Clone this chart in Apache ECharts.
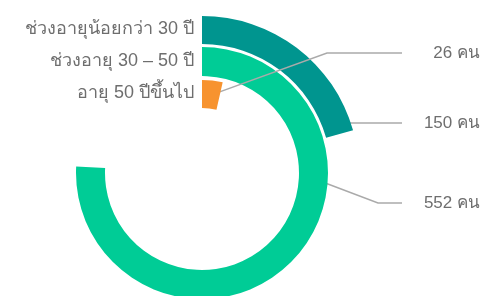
<!DOCTYPE html>
<html><head><meta charset="utf-8">
<script src="https://cdn.jsdelivr.net/npm/echarts@6/dist/echarts.min.js"></script>
<style>html,body{margin:0;padding:0;background:#fff}#c{width:490px;height:296px}</style>
</head><body><div id="c"></div>
<script>
// Data (inner ring -> outer ring)
const categories = ['อายุ 50 ปีขึ้นไป', 'ช่วงอายุ 30 – 50 ปี', 'ช่วงอายุน้อยกว่า 30 ปี'];
const values = [26, 552, 150];
const unit = 'คน';

// Styling / layout
const colors = ['#F7932F', '#00CC96', '#00958F'];
const ringRadii = [[65, 93], [97, 126], [129, 157]];
const center = [202, 173];
const guides = [
  { anchor: 0.57, y: 53, elbowX: 327 },
  { anchor: 0.34, y: 203, elbowX: 378 },
  { anchor: 0.94, y: 123, elbowX: null }
];
const textColor = '#6e6e6e';
const font = 'sans-serif';

const total = values.reduce((a, b) => a + b, 0);
const chart = echarts.init(document.getElementById('c'), null, { renderer: 'canvas' });
const W = chart.getWidth();

const series = values.map((v, i) => ({
  type: 'pie',
  z: 10 - i,
  center: center,
  radius: ringRadii[i],
  startAngle: 90,
  clockwise: true,
  silent: true,
  avoidLabelOverlap: false,
  animation: false,
  label: { show: true, position: 'outside', formatter: '{c} ' + unit, color: textColor, fontSize: 17, fontFamily: font },
  labelLine: { show: true, lineStyle: { color: '#aaaaaa', width: 1.5 } },
  labelLayout: function (p) {
    const g = guides[i];
    const theta = g.anchor * (v / total) * Math.PI * 2;
    const r = (ringRadii[i][0] + ringRadii[i][1]) / 2;
    const sx = center[0] + r * Math.sin(theta);
    const sy = center[1] - r * Math.cos(theta);
    const endX = W - 88;
    const pts = g.elbowX == null
      ? [[sx, g.y], [(sx + endX) / 2, g.y], [endX, g.y]]
      : [[sx, sy], [g.elbowX, g.y], [endX, g.y]];
    return { x: W - 10, y: g.y, align: 'right', verticalAlign: 'middle', labelLinePoints: pts };
  },
  data: [
    { value: v, name: categories[i], itemStyle: { color: colors[i] } },
    { value: total - v, name: 'rest', itemStyle: { color: 'rgba(0,0,0,0)' }, label: { show: false }, labelLine: { show: false } }
  ]
}));

chart.setOption({
  animation: false,
  polar: { center: center, radius: [64, 160] },
  angleAxis: { type: 'value', min: 0, max: total, startAngle: 90, show: false },
  radiusAxis: {
    type: 'category',
    data: categories,
    axisLine: { show: false },
    axisTick: { show: false },
    splitLine: { show: false },
    splitArea: { show: false },
    axisLabel: { color: textColor, fontSize: 18, fontFamily: font, margin: 8, interval: 0 }
  },
  series: series
});
</script>
</body></html>
